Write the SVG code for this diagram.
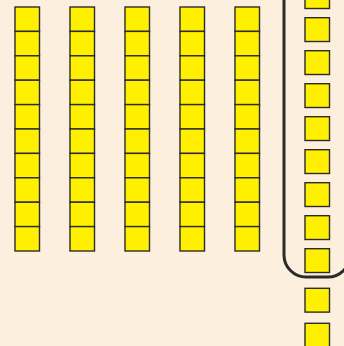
<svg xmlns="http://www.w3.org/2000/svg" width="344" height="346" viewBox="0 0 344 346">
<defs>
<style>
.c{fill:#FFF000;stroke:#2b2b2b;stroke-width:1.4}
.b{fill:none;stroke:#2b2b2b;stroke-width:3}
</style>
<g id="cell"><rect class="c" x="0" y="0" width="24.5" height="24.4"/></g>
</defs>
<rect width="344" height="346" fill="#FDEFDD"/>
<g id="col1">
<use href="#cell" x="15" y="7"/><use href="#cell" x="15" y="31.4"/><use href="#cell" x="15" y="55.8"/><use href="#cell" x="15" y="80.2"/><use href="#cell" x="15" y="104.6"/><use href="#cell" x="15" y="129"/><use href="#cell" x="15" y="153.4"/><use href="#cell" x="15" y="177.8"/><use href="#cell" x="15" y="202.2"/><use href="#cell" x="15" y="226.6"/>
</g>
<g id="col2">
<use href="#cell" x="70" y="7"/><use href="#cell" x="70" y="31.4"/><use href="#cell" x="70" y="55.8"/><use href="#cell" x="70" y="80.2"/><use href="#cell" x="70" y="104.6"/><use href="#cell" x="70" y="129"/><use href="#cell" x="70" y="153.4"/><use href="#cell" x="70" y="177.8"/><use href="#cell" x="70" y="202.2"/><use href="#cell" x="70" y="226.6"/>
</g>
<g id="col3">
<use href="#cell" x="125" y="7"/><use href="#cell" x="125" y="31.4"/><use href="#cell" x="125" y="55.8"/><use href="#cell" x="125" y="80.2"/><use href="#cell" x="125" y="104.6"/><use href="#cell" x="125" y="129"/><use href="#cell" x="125" y="153.4"/><use href="#cell" x="125" y="177.8"/><use href="#cell" x="125" y="202.2"/><use href="#cell" x="125" y="226.6"/>
</g>
<g id="col4">
<use href="#cell" x="180" y="7"/><use href="#cell" x="180" y="31.4"/><use href="#cell" x="180" y="55.8"/><use href="#cell" x="180" y="80.2"/><use href="#cell" x="180" y="104.6"/><use href="#cell" x="180" y="129"/><use href="#cell" x="180" y="153.4"/><use href="#cell" x="180" y="177.8"/><use href="#cell" x="180" y="202.2"/><use href="#cell" x="180" y="226.6"/>
</g>
<g id="col5">
<use href="#cell" x="235" y="7"/><use href="#cell" x="235" y="31.4"/><use href="#cell" x="235" y="55.8"/><use href="#cell" x="235" y="80.2"/><use href="#cell" x="235" y="104.6"/><use href="#cell" x="235" y="129"/><use href="#cell" x="235" y="153.4"/><use href="#cell" x="235" y="177.8"/><use href="#cell" x="235" y="202.2"/><use href="#cell" x="235" y="226.6"/>
</g>
<g id="bracket"><rect class="b" x="284" y="-40" width="66" height="317" rx="22"/></g>
<g id="ones">
<rect class="c" x="305" y="-15.3" width="24.5" height="23.8"/>
<rect class="c" x="305" y="17.7" width="24.5" height="23.8"/>
<rect class="c" x="305" y="50.7" width="24.5" height="23.8"/>
<rect class="c" x="305" y="83.7" width="24.5" height="23.8"/>
<rect class="c" x="305" y="116.7" width="24.5" height="23.8"/>
<rect class="c" x="305" y="149.7" width="24.5" height="23.8"/>
<rect class="c" x="305" y="182.7" width="24.5" height="23.8"/>
<rect class="c" x="305" y="215.7" width="24.5" height="23.8"/>
<rect class="c" x="305" y="248.7" width="24.5" height="23.8"/>
<rect class="c" x="305" y="288.3" width="24.5" height="23.8"/>
<rect class="c" x="305" y="323.3" width="24.5" height="23.8"/>
</g>
</svg>
